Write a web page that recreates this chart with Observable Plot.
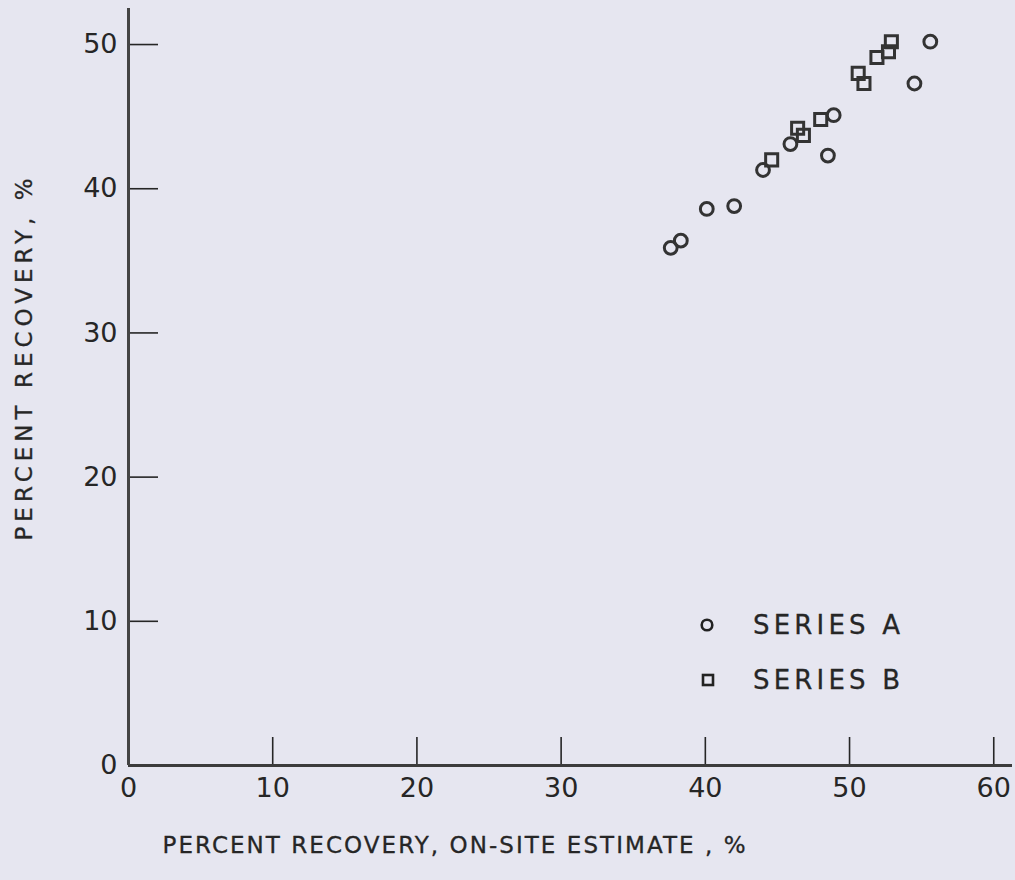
<!DOCTYPE html>
<html>
<head>
<meta charset="utf-8">
<script src="https://cdn.jsdelivr.net/npm/d3@7"></script>
<script src="https://cdn.jsdelivr.net/npm/@observablehq/plot@0.6"></script>
<style>
  html, body { margin: 0; padding: 0; background: #e6e6f0; }
  #wrap { position: relative; width: 1015px; height: 880px; background: #e6e6f0; }
  #legend { position: absolute; left: 0; top: 0; pointer-events: none; }
</style>
</head>
<body>
<div id="wrap"></div>
<script>
// ---- data ----
const seriesAX = [55.6, 54.5, 48.9, 48.5, 45.9, 44.0, 42.0, 40.1, 38.3, 37.6];
const seriesAY = [50.2, 47.3, 45.1, 42.3, 43.1, 41.3, 38.8, 38.6, 36.4, 35.9];
const seriesBX = [52.9, 52.7, 51.9, 50.6, 51.0, 48.0, 46.4, 46.8, 44.6];
const seriesBY = [50.2, 49.5, 49.1, 48.0, 47.3, 44.8, 44.2, 43.7, 42.0];
const xTicks = [0, 10, 20, 30, 40, 50, 60];
const yTicks = [0, 10, 20, 30, 40, 50];
const xLabel = "PERCENT RECOVERY, ON-SITE ESTIMATE , %";
const yLabel = "PERCENT RECOVERY, %";
const seriesNames = ["SERIES A", "SERIES B"];

const dataA = seriesAX.map((x, i) => ({x, y: seriesAY[i]}));
const dataB = seriesBX.map((x, i) => ({x, y: seriesBY[i]}));

const ink = "#262626";

const plot = Plot.plot({
  width: 1015,
  height: 880,
  marginLeft: 128,
  marginRight: 3,
  marginTop: 8,
  marginBottom: 115,
  style: { background: "transparent", fontFamily: "DejaVu Sans", color: ink, overflow: "visible" },
  x: { domain: [0, 61.3], label: null },
  y: { domain: [0, 52.5], label: null },
  marks: [
    Plot.axisX(xTicks, { tickSize: -28, tickFormat: () => "", stroke: ink, strokeWidth: 1.6, label: null }),
    Plot.axisX(xTicks, { tickSize: 0, tickPadding: 12, fontSize: 27, fill: ink, stroke: ink, strokeWidth: 0.4, label: null }),
    Plot.axisY(yTicks, { tickSize: -30, tickFormat: () => "", stroke: ink, strokeWidth: 1.6, label: null }),
    Plot.axisY(yTicks, { tickSize: 0, tickPadding: 11, fontSize: 27, fill: ink, stroke: ink, strokeWidth: 0.4, label: null }),
    Plot.ruleY([0], { stroke: "#3c3c3c", strokeWidth: 3 }),
    Plot.ruleX([0], { stroke: "#444", strokeWidth: 3 }),
    Plot.dot(dataA, { x: "x", y: "y", symbol: "circle", r: 6.4, stroke: "#333", strokeWidth: 3, fill: "none" }),
    Plot.dot(dataB, { x: "x", y: "y", symbol: "square", r: 6.8, stroke: "#333", strokeWidth: 3, fill: "none" }),
    Plot.text([xLabel], { frameAnchor: "bottom", dx: -116.5, dy: 87, fontSize: 23, fill: ink, stroke: ink, strokeWidth: 0.3 }),
    Plot.text([yLabel], { frameAnchor: "left", rotate: -90, textAnchor: "start", dx: -104, dy: 153.5, fontSize: 23, fill: ink, stroke: ink, strokeWidth: 0.3 })
  ]
});

document.getElementById("wrap").appendChild(plot);

// Fit axis titles to the lettering width of the original
d3.select(plot).selectAll("text").each(function () {
  const t = d3.select(this);
  const s = t.text();
  if (s === xLabel) t.attr("textLength", 583).attr("lengthAdjust", "spacing");
  if (s === yLabel) t.attr("textLength", 362).attr("lengthAdjust", "spacing");
});

// Legend overlay
const leg = d3.select("#wrap").append("svg")
  .attr("id", "legend").attr("width", 1015).attr("height", 880);
const rows = [{sym: "circle", name: seriesNames[0], cy: 625}, {sym: "square", name: seriesNames[1], cy: 680}];
rows.forEach(r => {
  if (r.sym === "circle") {
    leg.append("circle").attr("cx", 707).attr("cy", r.cy).attr("r", 5.3)
      .attr("fill", "none").attr("stroke", "#222").attr("stroke-width", 2.6);
  } else {
    leg.append("rect").attr("x", 703).attr("y", r.cy - 5).attr("width", 10).attr("height", 10)
      .attr("fill", "none").attr("stroke", "#222").attr("stroke-width", 2.6);
  }
  leg.append("text").attr("x", 753).attr("y", r.cy).attr("dy", "0.36em")
    .attr("font-family", "DejaVu Sans").attr("font-size", 26).attr("fill", ink)
    .attr("stroke", ink).attr("stroke-width", 0.3)
    .attr("textLength", 147).attr("lengthAdjust", "spacing")
    .text(r.name);
});
</script>
</body>
</html>
